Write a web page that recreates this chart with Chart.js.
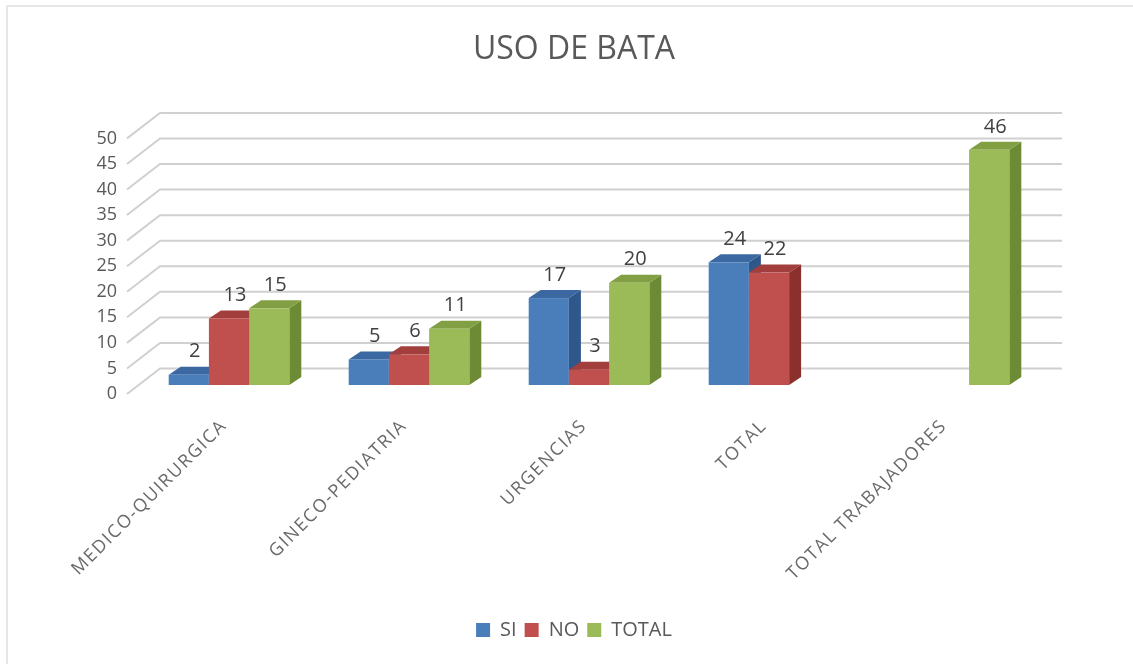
<!DOCTYPE html>
<html>
<head>
<meta charset="utf-8">
<script src="https://cdn.jsdelivr.net/npm/chart.js@4"></script>
<style>
  html, body { margin: 0; padding: 0; background: #ffffff; }
  #wrap { width: 1133px; height: 664px; }
</style>
</head>
<body>
<div id="wrap"><canvas id="usoBataChart" width="1133" height="664"></canvas></div>
<script>
var categories = ["MEDICO-QUIRURGICA", "GINECO-PEDIATRIA", "URGENCIAS", "TOTAL", "TOTAL TRABAJADORES"];
var siValues = [2, 5, 17, 24, null];
var noValues = [13, 6, 3, 22, null];
var totalValues = [15, 11, 20, null, 46];
var yTicks = [0, 5, 10, 15, 20, 25, 30, 35, 40, 45, 50];

// front, top, side
var faceColors = [
    ['#4a7ebb', '#3b68a0', '#2f5789'],
    ['#c0504d', '#a23f3c', '#8c302e'],
    ['#9bbb59', '#82a043', '#6d8a34']
];
var DX = 12, DY = -8;

var bars3d = {
    id: 'bars3d',
    beforeDraw: function (chart) {
        var ctx = chart.ctx;
        ctx.save();
        ctx.strokeStyle = '#e6e6e6';
        ctx.lineWidth = 2;
        ctx.beginPath();
        ctx.moveTo(7, 664);
        ctx.lineTo(7, 6);
        ctx.lineTo(1133, 6);
        ctx.stroke();
        ctx.restore();
    },
    beforeDatasetsDraw: function (chart) {
        var ctx = chart.ctx;
        var area = chart.chartArea;
        var y = chart.scales.y;
        ctx.save();
        // back wall grid + floor diagonals
        ctx.strokeStyle = '#d0d0d0';
        ctx.lineWidth = 2;
        yTicks.forEach(function (v) {
            var py = y.getPixelForValue(v);
            ctx.beginPath();
            ctx.moveTo(area.left - 12, py + 9);
            ctx.lineTo(area.left + 21, py - 16.5);
            ctx.lineTo(area.right + 23, py - 16.5);
            ctx.stroke();
        });
        // tick labels on the front edge
        ctx.fillStyle = '#595959';
        ctx.font = '18px "Open Sans"';
        ctx.textAlign = 'right';
        ctx.textBaseline = 'middle';
        yTicks.forEach(function (v) {
            ctx.fillText(String(v), area.left - 22, y.getPixelForValue(v) + 9);
        });
        // bars, drawn left to right so nearer faces cover the ones behind
        var items = [];
        chart.data.datasets.forEach(function (ds, i) {
            chart.getDatasetMeta(i).data.forEach(function (bar, j) {
                if (ds.data[j] === null) return;
                items.push({ bar: bar, c: faceColors[i] });
            });
        });
        items.sort(function (a, b) { return a.bar.x - b.bar.x; });
        items.forEach(function (it) {
            var b = it.bar;
            var L = b.x - b.width / 2, R = b.x + b.width / 2, T = b.y, B = b.base;
            ctx.fillStyle = it.c[2];
            ctx.beginPath();
            ctx.moveTo(R, T); ctx.lineTo(R + DX, T + DY); ctx.lineTo(R + DX, B + DY); ctx.lineTo(R, B);
            ctx.closePath(); ctx.fill();
            ctx.fillStyle = it.c[1];
            ctx.beginPath();
            ctx.moveTo(L, T); ctx.lineTo(R, T); ctx.lineTo(R + DX, T + DY); ctx.lineTo(L + DX, T + DY);
            ctx.closePath(); ctx.fill();
            ctx.fillStyle = it.c[0];
            ctx.fillRect(L, T, R - L, B - T);
        });
        ctx.restore();
        return false;
    },
    afterDraw: function (chart) {
        var ctx = chart.ctx;
        var area = chart.chartArea;
        var xs = chart.scales.x;
        ctx.save();
        // value labels
        ctx.fillStyle = '#404040';
        ctx.font = '20px "Open Sans"';
        ctx.textAlign = 'center';
        ctx.textBaseline = 'middle';
        chart.data.datasets.forEach(function (ds, i) {
            chart.getDatasetMeta(i).data.forEach(function (bar, j) {
                if (ds.data[j] === null) return;
                ctx.fillText(String(ds.data[j]), bar.x + DX / 2, bar.y - 23);
            });
        });
        // rotated category labels
        ctx.fillStyle = '#6a6a6a';
        ctx.font = '18px "Open Sans"';
        if ('letterSpacing' in ctx) ctx.letterSpacing = '1.6px';
        ctx.textAlign = 'right';
        ctx.textBaseline = 'middle';
        categories.forEach(function (lab, i) {
            ctx.save();
            ctx.translate(xs.getPixelForTick(i) - 5, area.bottom + 38);
            ctx.rotate(-Math.PI / 4);
            ctx.fillText(lab, 0, 0);
            ctx.restore();
        });
        ctx.restore();
    }
};

var usoBata = document.getElementById("usoBataChart");
var usoBataChart = new Chart(usoBata, {
    type: 'bar',
    data: {
        labels: categories,
        datasets: [
            { label: 'SI', data: siValues, backgroundColor: faceColors[0][0], borderWidth: 0 },
            { label: 'NO', data: noValues, backgroundColor: faceColors[1][0], borderWidth: 0 },
            { label: 'TOTAL', data: totalValues, backgroundColor: faceColors[2][0], borderWidth: 0 }
        ]
    },
    options: {
        responsive: false,
        animation: false,
        devicePixelRatio: 1,
        layout: {
            padding: { left: 109, right: 94, top: 0, bottom: 14 }
        },
        datasets: {
            bar: { categoryPercentage: 0.67, barPercentage: 1.0 }
        },
        scales: {
            x: {
                grid: { display: false },
                border: { display: false },
                ticks: { display: false },
                afterFit: function (scale) { scale.height = 227; }
            },
            y: {
                min: 0,
                max: 50,
                grid: { display: false },
                border: { display: false },
                ticks: { display: false, stepSize: 5 },
                afterFit: function (scale) { scale.width = 30; }
            }
        },
        plugins: {
            title: {
                display: true,
                text: 'USO DE BATA',
                color: '#595959',
                font: { family: 'Open Sans', size: 32, weight: 'normal' },
                padding: { top: 31, bottom: 60 }
            },
            legend: {
                position: 'bottom',
                labels: {
                    boxWidth: 14,
                    boxHeight: 14,
                    padding: 8,
                    color: '#595959',
                    font: { family: 'Open Sans', size: 20 }
                }
            },
            tooltip: { enabled: false }
        }
    },
    plugins: [bars3d]
});
</script>
</body>
</html>
